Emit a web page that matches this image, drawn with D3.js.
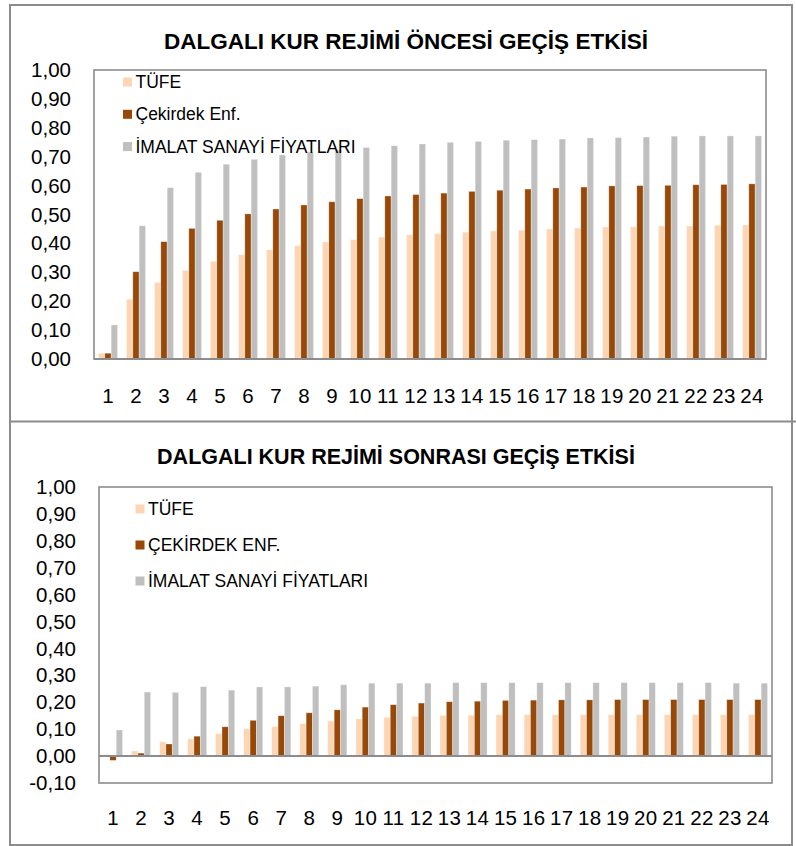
<!DOCTYPE html>
<html>
<head>
<meta charset="utf-8">
<script src="https://cdn.jsdelivr.net/npm/d3@7"></script>
<style>
  html, body { margin: 0; padding: 0; background: #ffffff; }
  svg { display: block; }
  text { font-family: "Liberation Sans", Arial, Helvetica, sans-serif; fill: #000; }
</style>
</head>
<body>
<svg id="chart" width="796" height="846"></svg>
<script>
// Months after the shock
const months = d3.range(1, 25).map(String);

// Series names
const seriesOnce = ["TÜFE", "Çekirdek Enf.", "İMALAT SANAYİ FİYATLARI"];
const seriesSonra = ["TÜFE", "ÇEKİRDEK ENF.", "İMALAT SANAYİ FİYATLARI"];

// Pass-through before the floating exchange rate regime
const tufeOnce = [0.020, 0.207, 0.265, 0.306, 0.338, 0.361, 0.378, 0.392, 0.405, 0.413, 0.422, 0.430,
                  0.434, 0.439, 0.443, 0.446, 0.450, 0.453, 0.457, 0.458, 0.460, 0.460, 0.463, 0.464];
const cekOnce = [0.020, 0.302, 0.406, 0.452, 0.480, 0.502, 0.519, 0.533, 0.544, 0.555, 0.564, 0.569,
                 0.574, 0.580, 0.584, 0.588, 0.592, 0.595, 0.599, 0.600, 0.601, 0.603, 0.604, 0.606];
const imalatOnce = [0.118, 0.461, 0.593, 0.646, 0.674, 0.691, 0.706, 0.716, 0.723, 0.732, 0.738, 0.744,
                    0.750, 0.753, 0.757, 0.759, 0.761, 0.765, 0.766, 0.768, 0.771, 0.772, 0.772, 0.772];

// Pass-through after the floating exchange rate regime
const tufeSonra = [0.006, 0.019, 0.053, 0.064, 0.084, 0.102, 0.110, 0.121, 0.130, 0.138, 0.144, 0.148,
                   0.151, 0.152, 0.154, 0.154, 0.154, 0.154, 0.154, 0.154, 0.154, 0.154, 0.154, 0.154];
const cekSonra = [-0.016, 0.011, 0.045, 0.074, 0.109, 0.133, 0.150, 0.161, 0.172, 0.182, 0.191, 0.197,
                  0.202, 0.204, 0.207, 0.208, 0.209, 0.209, 0.210, 0.210, 0.210, 0.210, 0.210, 0.210];
const imalatSonra = [0.097, 0.238, 0.237, 0.258, 0.245, 0.257, 0.257, 0.260, 0.265, 0.271, 0.271, 0.271,
                     0.273, 0.273, 0.273, 0.273, 0.273, 0.273, 0.273, 0.273, 0.273, 0.273, 0.271, 0.271];

// Y axis ticks
const ticksOnce = d3.range(0, 11).map(i => i / 10);
const ticksSonra = d3.range(-1, 11).map(i => i / 10);

const colors = ["#FCD5B4", "#984807", "#BFBFBF"];
const frameColor = "#8c8c8c";

const svg = d3.select("#chart");
const fmt = v => d3.format(".2f")(v).replace(".", ",").replace("−", "-");

// Outer frame and divider
svg.append("rect").attr("x", 10).attr("y", 5).attr("width", 782).attr("height", 840)
  .attr("fill", "none").attr("stroke", frameColor).attr("stroke-width", 2);
svg.append("line").attr("x1", 10).attr("x2", 796).attr("y1", 421.5).attr("y2", 421.5)
  .attr("stroke", frameColor).attr("stroke-width", 2);

function drawPanel(cfg) {
  const g = svg.append("g");
  const x = d3.scaleBand().domain(months).range([cfg.left, cfg.right]).paddingInner(0.32).paddingOuter(0.16);
  const xs = d3.scaleBand().domain(cfg.names).range([0, x.bandwidth()]).padding(0);
  const y = d3.scaleLinear().domain(cfg.domain).range([cfg.bottom, cfg.top]);

  // title
  g.append("text").attr("x", cfg.titleX).attr("y", cfg.titleY)
    .attr("text-anchor", "middle").attr("font-size", cfg.titleSize).attr("font-weight", "bold")
    .text(cfg.title);

  // bars
  cfg.values.forEach((vals, si) => {
    g.append("g").selectAll("rect").data(vals).join("rect")
      .attr("x", (d, i) => x(months[i]) + xs(cfg.names[si]))
      .attr("width", xs.bandwidth())
      .attr("y", d => y(Math.max(0, d)))
      .attr("height", d => Math.abs(y(d) - y(0)))
      .attr("fill", colors[si])
      .attr("stroke", "#ffffff").attr("stroke-opacity", 0.45).attr("stroke-width", 0.7);
  });

  // plot frame
  g.append("rect").attr("x", cfg.left).attr("y", cfg.top)
    .attr("width", cfg.right - cfg.left).attr("height", cfg.bottom - cfg.top)
    .attr("fill", "none").attr("stroke", frameColor).attr("stroke-width", 1.6);

  // zero line
  g.append("line").attr("x1", cfg.left).attr("x2", cfg.right)
    .attr("y1", y(0)).attr("y2", y(0)).attr("stroke", frameColor).attr("stroke-width", 2);

  // y axis labels
  const yAxis = d3.axisLeft(y).tickValues(cfg.ticks).tickFormat(fmt).tickSize(0).tickPadding(0);
  const ya = g.append("g").attr("transform", `translate(${cfg.labelRight},0)`).call(yAxis);
  ya.select(".domain").remove();
  ya.selectAll("text").attr("font-size", 20.5).attr("font-family", null).attr("fill", "#000");

  // x axis labels
  const xAxis = d3.axisBottom(x).tickSize(0).tickPadding(0);
  const xa = g.append("g").attr("transform", `translate(0,${cfg.xLabelY})`).call(xAxis);
  xa.select(".domain").remove();
  xa.selectAll("text").attr("font-size", 20.5).attr("font-family", null).attr("fill", "#000")
    .attr("dy", "0.35em").attr("y", 0).attr("letter-spacing", 0.3);

  // legend
  const lg = g.append("g");
  cfg.names.forEach((n, i) => {
    const cy = cfg.legendY + i * cfg.legendStep;
    lg.append("rect").attr("x", cfg.legendX).attr("y", cy - 4.5).attr("width", 9).attr("height", 9)
      .attr("fill", colors[i]);
    lg.append("text").attr("x", cfg.legendX + 12.5).attr("y", cy).attr("dy", "0.35em")
      .attr("font-size", 17.5).text(n);
  });
}

drawPanel({
  title: "DALGALI KUR REJİMİ ÖNCESİ GEÇİŞ ETKİSİ",
  titleX: 406, titleY: 49, titleSize: 22.5,
  names: seriesOnce,
  values: [tufeOnce, cekOnce, imalatOnce],
  domain: [0, 1],
  ticks: ticksOnce,
  left: 94, right: 766, top: 70, bottom: 359,
  labelRight: 71,
  xLabelY: 396,
  legendX: 123, legendY: 82, legendStep: 32.3
});

drawPanel({
  title: "DALGALI KUR REJİMİ SONRASI GEÇİŞ ETKİSİ",
  titleX: 396, titleY: 464, titleSize: 21.5,
  names: seriesSonra,
  values: [tufeSonra, cekSonra, imalatSonra],
  domain: [-0.1, 1],
  ticks: ticksSonra,
  left: 99, right: 772, top: 487, bottom: 783,
  labelRight: 76,
  xLabelY: 818,
  legendX: 135.5, legendY: 509, legendStep: 36
});
</script>
</body>
</html>
